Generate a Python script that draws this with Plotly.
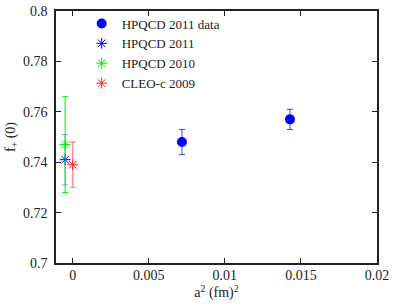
import plotly.graph_objects as go

# HPQCD 2011 data points
data_x = [0.00718, 0.01428]
data_y = [0.748, 0.757]
data_err = [0.005, 0.004]

# extrapolated / comparison results near a^2 = 0
hpqcd2011_x = [-0.0005]
hpqcd2011_y = [0.741]
hpqcd2011_err = [0.010]

hpqcd2010_x = [-0.0005]
hpqcd2010_y = [0.747]
hpqcd2010_err = [0.019]

cleo_x = [0.0]
cleo_y = [0.739]
cleo_err = [0.009]

x_ticks = [0, 0.005, 0.01, 0.015, 0.02]
x_tick_labels = ["0", "0.005", "0.01", "0.015", "0.02"]
y_ticks = [0.7, 0.72, 0.74, 0.76, 0.78, 0.8]
y_tick_labels = ["0.7", "0.72", "0.74", "0.76", "0.78", "0.8"]

FONT = "Liberation Serif, Times New Roman, serif"

fig = go.Figure()

fig.add_trace(go.Scatter(
    x=data_x, y=data_y, mode="markers", name="HPQCD 2011 data",
    marker=dict(symbol="circle", size=10, color="#0000ff"),
    error_y=dict(type="data", array=data_err, color="rgba(0,0,255,0.75)", thickness=1, width=3),
))
fig.add_trace(go.Scatter(
    x=hpqcd2011_x, y=hpqcd2011_y, mode="markers", name="HPQCD 2011",
    marker=dict(symbol="asterisk-open", size=9, color="#0000ff", line=dict(color="#0000ff", width=1)),
    error_y=dict(type="data", array=hpqcd2011_err, color="rgba(0,0,255,0.4)", thickness=1, width=3),
))
fig.add_trace(go.Scatter(
    x=hpqcd2010_x, y=hpqcd2010_y, mode="markers", name="HPQCD 2010",
    marker=dict(symbol="asterisk-open", size=9, color="#00ee00", line=dict(color="#00ee00", width=1)),
    error_y=dict(type="data", array=hpqcd2010_err, color="#00ee00", thickness=1, width=3),
))
fig.add_trace(go.Scatter(
    x=cleo_x, y=cleo_y, mode="markers", name="CLEO-c 2009",
    marker=dict(symbol="asterisk-open", size=9, color="#ff2020", line=dict(color="#ff2020", width=1)),
    error_y=dict(type="data", array=cleo_err, color="rgba(255,0,0,0.5)", thickness=1.2, width=3),
))

axis_common = dict(
    showgrid=False, zeroline=False, showline=True, linecolor="#222222", linewidth=1.5,
    mirror="ticks", ticks="inside", ticklen=5, tickcolor="#222222", tickwidth=1,
    tickfont=dict(family=FONT, size=14, color="#222222"),
    automargin=False,
)

fig.update_xaxes(
    range=[-0.0011, 0.02], tickvals=x_ticks, ticktext=x_tick_labels,
    ticklabelstandoff=-2,
    title=dict(text="a<sup>2</sup> (fm)<sup>2</sup>", font=dict(family=FONT, size=14, color="#222222"), standoff=0),
    **axis_common,
)
fig.update_yaxes(
    range=[0.7, 0.8], tickvals=y_ticks, ticktext=y_tick_labels,
    ticklabelstandoff=4,
    title=dict(text="f<sub>+</sub> (0)", font=dict(family=FONT, size=14, color="#222222"), standoff=4),
    **axis_common,
)

fig.update_layout(
    width=399, height=307,
    margin=dict(l=56, r=22, t=8, b=44),
    plot_bgcolor="white", paper_bgcolor="white",
    showlegend=True,
    legend=dict(
        x=0.08, y=1.01, xanchor="left", yanchor="top",
        bgcolor="rgba(255,255,255,0)", borderwidth=0,
        font=dict(family=FONT, size=13, color="#222222"),
        tracegroupgap=0, itemwidth=30,
    ),
)

fig.write_html("out.html", config={"displayModeBar": False},
               post_script="document.body.style.margin='0';")
